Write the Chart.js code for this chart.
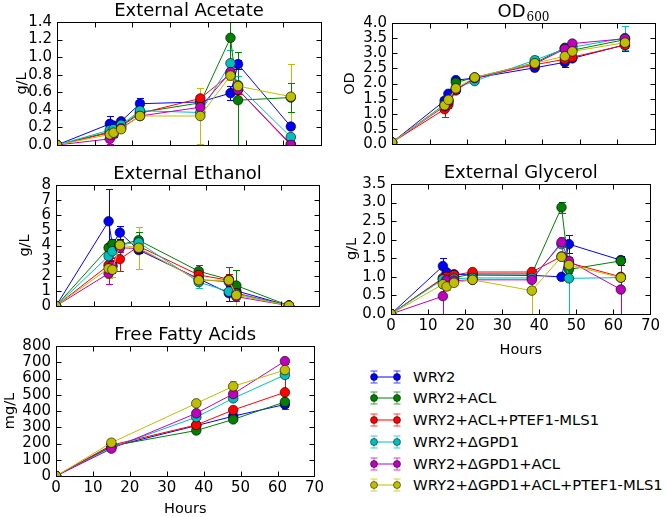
<!DOCTYPE html>
<html>
<head>
<meta charset="utf-8">
<script src="https://cdn.jsdelivr.net/npm/chart.js@4.4.0/dist/chart.umd.min.js"></script>
<style>
  body { margin: 0; background: #fff; width: 668px; height: 517px; position: relative; overflow: hidden; font-family: 'DejaVu Sans', sans-serif; }
  canvas { position: absolute; }
  .lg { position: absolute; font-size: 14.8px; color: #000; white-space: nowrap; line-height: 18px; }
  .lgsym { position: absolute; }
</style>
</head>
<body>
<script>
// sampling times (hours)
const hours = [0, 14, 15, 17, 22, 38, 46, 48, 62];
const ffaHours = [0, 15, 38, 48, 62];

const strains = ['WRY2', 'WRY2+ACL', 'WRY2+ACL+PTEF1-MLS1', 'WRY2+\u0394GPD1', 'WRY2+\u0394GPD1+ACL', 'WRY2+\u0394GPD1+ACL+PTEF1-MLS1'];
const colors = ['#0000ff', '#008000', '#ff0000', '#00bfbf', '#bf00bf', '#bfbf00'];

// one row per strain, same order as strains
const acetate = [
  [0, 0.24, 0.22, 0.27, 0.47, 0.49, 0.59, 0.92, 0.21],
  [0, 0.15, 0.17, 0.22, 0.37, 0.48, 1.22, 0.51, 0.54],
  [0, 0.14, 0.16, 0.21, 0.36, 0.53, 0.81, 0.63, 0.01],
  [0, 0.17, 0.18, 0.23, 0.39, 0.37, 0.93, 0.68, 0.09],
  [0, 0.07, 0.12, 0.19, 0.33, 0.43, 0.83, 0.63, 0.0],
  [0, 0.12, 0.14, 0.18, 0.33, 0.33, 0.79, 0.67, 0.55]
];
const acetateErr = [
  [0, 0.09, 0.04, 0.03, 0.07, 0.03, 0.08, 0.05, 0.03],
  [0, 0.02, 0.02, 0.02, 0.03, 0.04, 0.35, 0.55, 0.16],
  [0, 0.02, 0.02, 0.02, 0.02, 0.03, 0.05, 0.05, 0.02],
  [0, 0.03, 0.03, 0.03, 0.03, 0.03, 0.15, 0.1, 0.03],
  [0, 0.06, 0.03, 0.02, 0.03, 0.03, 0.04, 0.05, 0.02],
  [0, 0.03, 0.03, 0.03, 0.03, 0.32, 0.05, 0.04, 0.37]
];

const od = [
  [0.05, 1.43, 1.66, 2.11, 2.18, 2.52, 2.7, 2.83, 3.28],
  [0.05, 1.3, 1.45, 2.03, 2.2, 2.68, 3.18, 3.1, 3.45],
  [0.05, 1.15, 1.3, 1.77, 2.18, 2.62, 2.8, 2.87, 3.27],
  [0.05, 1.3, 1.4, 1.85, 2.08, 2.77, 3.15, 3.2, 3.5],
  [0.05, 1.25, 1.4, 1.8, 2.18, 2.65, 3.14, 3.32, 3.48],
  [0.05, 1.28, 1.46, 1.84, 2.2, 2.67, 2.9, 3.06, 3.35]
];
const odErr = [
  [0, 0.1, 0.08, 0.05, 0.05, 0.05, 0.15, 0.1, 0.2],
  [0, 0.05, 0.05, 0.05, 0.05, 0.05, 0.1, 0.05, 0.05],
  [0, 0.25, 0.12, 0.1, 0.05, 0.05, 0.08, 0.1, 0.1],
  [0, 0.1, 0.05, 0.05, 0.05, 0.15, 0.15, 0.15, 0.4],
  [0, 0.05, 0.05, 0.05, 0.05, 0.05, 0.08, 0.1, 0.05],
  [0, 0.1, 0.05, 0.05, 0.05, 0.05, 0.08, 0.08, 0.1]
];

const ethanol = [
  [0, 5.6, 4.05, 4.85, 3.7, 1.8, 0.85, 1.0, 0.02],
  [0, 3.85, 4.1, 4.05, 4.35, 2.3, 1.75, 1.35, 0.02],
  [0, 2.7, 2.65, 3.1, 3.95, 2.05, 1.7, 0.85, 0.02],
  [0, 3.3, 3.62, 4.05, 4.2, 1.58, 0.95, 0.8, 0.02],
  [0, 2.15, 2.65, 3.85, 3.8, 1.75, 1.6, 0.62, 0.02],
  [0, 2.48, 2.4, 4.03, 3.85, 1.7, 1.7, 0.72, 0.02]
];
const ethanolErr = [
  [0, 2.15, 0.3, 0.45, 0.2, 0.2, 0.5, 0.4, 0.05],
  [0, 0.3, 0.3, 0.3, 0.55, 0.4, 0.8, 1.05, 0.05],
  [0, 0.5, 0.4, 0.8, 0.3, 0.3, 0.4, 0.3, 0.05],
  [0, 0.4, 0.4, 0.3, 0.3, 0.4, 0.6, 0.5, 0.05],
  [0, 0.7, 0.5, 0.3, 0.3, 0.3, 0.3, 0.3, 0.05],
  [0, 0.6, 0.5, 0.4, 1.4, 0.5, 0.9, 0.7, 0.05]
];

const glycerol = [
  [0, 1.29, 1.12, 1.07, 1.05, 1.04, 1.0, 1.88, 1.45],
  [0, 0.95, 0.98, 0.98, 1.08, 1.08, 2.87, 1.2, 1.43],
  [0, 0.97, 1.0, 1.05, 1.13, 1.13, 1.55, 1.38, 1.0],
  [0, 0.93, 0.92, 0.95, 0.97, 0.97, 1.88, 0.96, 0.98],
  [0, 0.48, 0.9, 0.9, 0.92, 0.92, 1.93, 1.43, 0.66],
  [0, 0.8, 0.74, 0.84, 0.92, 0.63, 1.54, 1.32, 0.98]
];
const glycerolErr = [
  [0, 0.23, 0.05, 0.05, 0.05, 0.05, 0.05, 0.25, 0.12],
  [0, 0.05, 0.05, 0.05, 0.05, 0.05, 0.14, 0.1, 0.07],
  [0, 0.1, 0.1, 0.1, 0.05, 0.05, 0.05, 0.1, 0.05],
  [0, 0.05, 0.05, 0.05, 0.05, 0.05, 0.2, 0.96, 0.05],
  [0, 0.48, 0.05, 0.05, 0.05, 0.05, 0.1, 0.1, 0.66],
  [0, 0.1, 0.1, 0.05, 0.05, 0.63, 0.05, 0.1, 0.1]
];

const ffa = [
  [0, 180, 310, 368, 440],
  [0, 185, 280, 348, 456],
  [0, 190, 314, 406, 515],
  [0, 175, 362, 478, 622],
  [0, 168, 386, 505, 707],
  [0, 205, 447, 552, 652]
];
const ffaErr = [
  [0, 15, 10, 10, 15],
  [0, 15, 10, 10, 15],
  [0, 15, 10, 15, 100],
  [0, 15, 10, 15, 20],
  [0, 15, 10, 15, 15],
  [0, 15, 10, 35, 15]
];

// --- panel layout (plot box in page pixels) ---
const panels = [
  { title: 'External Acetate', yTitle: 'g/L', max: 1.4, step: 0.2, dec: 1, x: hours, vals: acetate, errs: acetateErr, L: 57, R: 321, T: 22, B: 153, dx: 35 },
  { title: 'OD', sub: '600', yTitle: 'OD', max: 4, step: 0.5, dec: 1, x: hours, vals: od, errs: odErr, L: 392, R: 655, T: 23, B: 152, dx: 42 },
  { title: 'External Ethanol', yTitle: 'g/L', max: 8, step: 1, dec: 0, x: hours, vals: ethanol, errs: ethanolErr, L: 56, R: 319, T: 185, B: 314, dx: 31 },
  { title: 'External Glycerol', yTitle: 'g/L', max: 3.5, step: 0.5, dec: 1, x: hours, vals: glycerol, errs: glycerolErr, L: 391, R: 655, T: 184, B: 314, dx: 39, hoursAt: 37 },
  { title: 'Free Fatty Acids', yTitle: 'mg/L', max: 800, step: 100, dec: 0, x: ffaHours, vals: ffa, errs: ffaErr, L: 56, R: 319, T: 346, B: 476, dx: 46, hoursAt: 34 }
];

// error bars under the lines, box + inward ticks + title on top
const panelPlugin = {
  id: 'panel',
  beforeDatasetsDraw(chart) {
    const { ctx, chartArea: a, scales: { x, y } } = chart;
    ctx.save();
    ctx.beginPath();
    ctx.rect(a.left, a.top, a.right - a.left, a.bottom - a.top);
    ctx.clip();
    ctx.lineWidth = 1;
    chart.data.datasets.slice().reverse().forEach(ds => {
      ctx.strokeStyle = ds.borderColor;
      ctx.beginPath();
      ds.data.forEach((p, j) => {
        const e = ds.errors[j];
        if (!e) return;
        const px = Math.round(x.getPixelForValue(p.x)) + 0.5;
        const y1 = Math.round(y.getPixelForValue(p.y - e)) + 0.5;
        const y2 = Math.round(y.getPixelForValue(p.y + e)) + 0.5;
        ctx.moveTo(px, y1); ctx.lineTo(px, y2);
        ctx.moveTo(px - 3.5, y1); ctx.lineTo(px + 3.5, y1);
        ctx.moveTo(px - 3.5, y2); ctx.lineTo(px + 3.5, y2);
      });
      ctx.stroke();
    });
    ctx.restore();
  },
  afterDatasetsDraw(chart, args, opts) {
    const { ctx, chartArea: a, scales: { x, y } } = chart;
    const L = Math.round(a.left) + 0.5, R = Math.round(a.right) + 0.5;
    const T = Math.round(a.top) + 0.5, B = Math.round(a.bottom) + 0.5;
    ctx.save();
    ctx.strokeStyle = '#000';
    ctx.lineWidth = 1;
    ctx.strokeRect(L, T, R - L, B - T);
    ctx.beginPath();
    x.ticks.forEach(t => {
      const px = Math.round(x.getPixelForValue(t.value)) + 0.5;
      ctx.moveTo(px, B); ctx.lineTo(px, B - 5);
      ctx.moveTo(px, T); ctx.lineTo(px, T + 5);
    });
    y.ticks.forEach(t => {
      const py = Math.round(y.getPixelForValue(t.value)) + 0.5;
      ctx.moveTo(L, py); ctx.lineTo(L + 5, py);
      ctx.moveTo(R, py); ctx.lineTo(R - 5, py);
    });
    ctx.stroke();

    // panel title
    ctx.fillStyle = '#000';
    ctx.textBaseline = 'alphabetic';
    const cx = (a.left + a.right) / 2, by = a.top - 6;
    ctx.font = '18px "DejaVu Sans"';
    if (opts.sub) {
      const w1 = ctx.measureText(opts.title).width;
      ctx.font = '12px "DejaVu Serif"';
      const w2 = ctx.measureText(opts.sub).width;
      const sx = cx - (w1 + w2 + 1) / 2;
      ctx.textAlign = 'left';
      ctx.font = '18px "DejaVu Sans"';
      ctx.fillText(opts.title, sx, by);
      ctx.font = '12px "DejaVu Serif"';
      ctx.fillText(opts.sub, sx + w1 + 1, by + 4);
    } else {
      ctx.textAlign = 'center';
      ctx.fillText(opts.title, cx, by);
    }
    ctx.restore();
  }
};

Chart.defaults.font.family = "'DejaVu Sans'";
Chart.defaults.color = '#000';

panels.forEach(p => {
  const yw = Math.round(p.dx + 8.4);
  const xh = p.hoursAt ? Math.round(p.hoursAt + 8.4) : 4;
  const left = p.L - yw, top = p.T - 22;
  const cv = document.createElement('canvas');
  cv.width = p.R - left + 8;
  cv.height = p.B - top + xh + 2;
  cv.style.left = left + 'px';
  cv.style.top = top + 'px';
  document.body.appendChild(cv);

  new Chart(cv, {
    type: 'line',
    data: {
      datasets: p.vals.map((row, i) => ({
        label: strains[i],
        data: row.map((v, j) => ({ x: p.x[j], y: v })),
        errors: p.errs[i],
        borderColor: colors[i],
        backgroundColor: colors[i],
        borderWidth: 1,
        pointRadius: 4.8,
        pointBackgroundColor: colors[i],
        pointBorderColor: '#000',
        pointBorderWidth: 0.6,
        tension: 0,
        order: strains.length - 1 - i
      }))
    },
    options: {
      responsive: false,
      animation: false,
      devicePixelRatio: 1,
      layout: { padding: { top: 22, right: 8, bottom: 2, left: 0 } },
      plugins: {
        legend: { display: false },
        tooltip: { enabled: false },
        panel: { title: p.title, sub: p.sub }
      },
      scales: {
        x: {
          type: 'linear', min: 0, max: 70,
          ticks: { stepSize: 10, display: !!p.hoursAt, padding: 3, autoSkip: false, maxRotation: 0, font: { size: 15 } },
          grid: { display: false, drawTicks: false },
          border: { display: false },
          title: { display: !!p.hoursAt, text: 'Hours', font: { size: 14.5 }, padding: 0 },
          afterFit: s => { s.height = xh; }
        },
        y: {
          min: 0, max: p.max,
          ticks: { stepSize: p.step, padding: 5, autoSkip: false, font: { size: 15 }, callback: v => v.toFixed(p.dec) },
          grid: { display: false, drawTicks: false },
          border: { display: false },
          title: { display: true, text: p.yTitle, font: { size: 14.5 }, padding: 0 },
          afterFit: s => { s.width = yw; }
        }
      }
    },
    plugins: [panelPlugin]
  });
});

// --- legend ---
strains.forEach((name, i) => {
  const cy = 376.7 + i * 21.7;
  const c = colors[i];
  const sym = document.createElement('div');
  sym.className = 'lgsym';
  sym.style.left = '366px';
  sym.style.top = (cy - 9) + 'px';
  sym.innerHTML =
    `<svg width="38" height="18" xmlns="http://www.w3.org/2000/svg">` +
    `<g stroke="${c}" stroke-width="1" opacity="0.75">` +
    `<line x1="8" y1="3" x2="8" y2="15"/><line x1="4.5" y1="3" x2="11.5" y2="3"/><line x1="4.5" y1="15" x2="11.5" y2="15"/>` +
    `<line x1="31" y1="3" x2="31" y2="15"/><line x1="27.5" y1="3" x2="34.5" y2="3"/><line x1="27.5" y1="15" x2="34.5" y2="15"/>` +
    `</g>` +
    `<line x1="8" y1="9" x2="31" y2="9" stroke="${c}" stroke-width="1"/>` +
    `<circle cx="8" cy="9" r="3.5" fill="${c}" stroke="#000" stroke-width="0.5"/>` +
    `<circle cx="31" cy="9" r="3.5" fill="${c}" stroke="#000" stroke-width="0.5"/>` +
    `</svg>`;
  document.body.appendChild(sym);
  const t = document.createElement('div');
  t.className = 'lg';
  t.style.left = '413px';
  t.style.top = (cy - 9) + 'px';
  t.textContent = name;
  document.body.appendChild(t);
});
</script>
</body>
</html>
